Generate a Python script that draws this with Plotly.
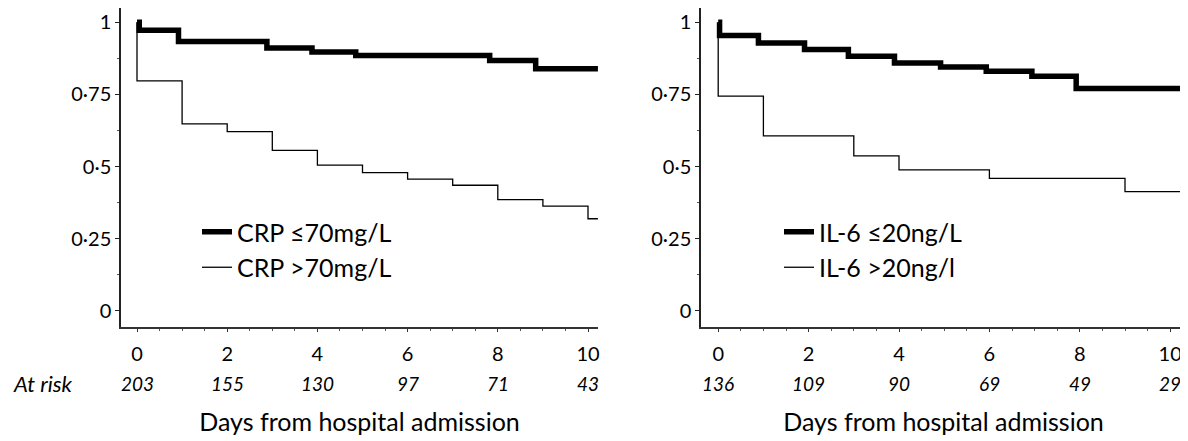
import plotly.graph_objects as go

# ---------------- data ----------------
crp_low_days = [0, 0.05, 0.92, 2.88, 3.88, 4.85, 7.82, 8.84, 10.22]
crp_low_surv = [1.0, 0.972, 0.933, 0.911, 0.897, 0.885, 0.867, 0.839, 0.839]

crp_high_days = [0, 0, 1, 2, 3, 4, 5, 6, 7, 8, 9, 10, 10.22]
crp_high_surv = [1.0, 0.797, 0.648, 0.621, 0.556, 0.505, 0.479, 0.456, 0.435, 0.385, 0.363, 0.319, 0.319]

il6_low_days = [0, 0.03, 0.89, 1.91, 2.88, 3.9, 4.92, 5.93, 6.94, 7.92, 10.35]
il6_low_surv = [1.0, 0.954, 0.928, 0.905, 0.882, 0.859, 0.845, 0.830, 0.813, 0.770, 0.770]

il6_high_days = [0, 0, 1, 3, 4, 6, 9, 10.35]
il6_high_surv = [1.0, 0.744, 0.606, 0.537, 0.488, 0.459, 0.413, 0.413]

risk_days = [0, 2, 4, 6, 8, 10]
crp_at_risk = [203, 155, 130, 97, 71, 43]
il6_at_risk = [136, 109, 90, 69, 49, 29]

y_tickvals = [0, 0.25, 0.5, 0.75, 1]
y_ticktext = ["0", "0·25", "0·5", "0·75", "1"]
x_tickvals = [0, 2, 4, 6, 8, 10]

legend_names_left = ["CRP ≤70mg/L", "CRP >70mg/L"]
legend_names_right = ["IL-6 ≤20ng/L", "IL-6 >20ng/l"]
x_title = "Days from hospital admission"

# ---------------- figure ----------------
FONT = "Lato"
OFF = 8                          # page body margin
W, H = 1188 - OFF, 441 - OFF     # figure size so that it ends at the window edge


def px(X):
    """window x pixel -> paper fraction"""
    return min(1.0, (X - OFF) / W)


def py(Y):
    """window y pixel (from top) -> paper fraction"""
    return min(1.0, 1 - (Y - OFF) / H)


def x_range(axis_left_px, axis_right_px, day0_px, px_per_day):
    right = OFF + px(axis_right_px) * W
    return [(axis_left_px - day0_px) / px_per_day, (right - day0_px) / px_per_day]


fig = go.Figure()

fig.add_trace(go.Scatter(x=crp_low_days, y=crp_low_surv, mode="lines",
                         line=dict(shape="hv", width=5.5, color="black"),
                         name=legend_names_left[0], xaxis="x", yaxis="y", legend="legend"))
fig.add_trace(go.Scatter(x=crp_high_days, y=crp_high_surv, mode="lines",
                         line=dict(shape="hv", width=1.3, color="black"),
                         name=legend_names_left[1], xaxis="x", yaxis="y", legend="legend"))
fig.add_trace(go.Scatter(x=il6_low_days, y=il6_low_surv, mode="lines",
                         line=dict(shape="hv", width=5.5, color="black"),
                         name=legend_names_right[0], xaxis="x2", yaxis="y2", legend="legend2"))
fig.add_trace(go.Scatter(x=il6_high_days, y=il6_high_surv, mode="lines",
                         line=dict(shape="hv", width=1.3, color="black"),
                         name=legend_names_right[1], xaxis="x2", yaxis="y2", legend="legend2"))

# y axis: value 0 at window y 310.8, value 1 at 22.2 ; axis spans down to y 327
top_px = 8.0
y_dom = [py(327), py(top_px)]
scale = 288.6
y_rng = [-(327 - 310.8) / scale, 1 + (22.2 - top_px) / scale]

xr1 = x_range(121, 598, 137.0, 45.1)
xr2 = x_range(701, 1186, 718.2, 45.2)


def xaxis_cfg(dom, rng, anchor):
    return dict(domain=dom, range=rng, tickvals=x_tickvals, showline=True, linecolor="#333", linewidth=2,
                ticks="outside", ticklen=3, tickcolor="#333", tickwidth=1, showgrid=False, zeroline=False,
                tickfont=dict(family=FONT, size=20, color="black"), ticklabelstandoff=5,
                ticklabeloverflow="allow",
                minor=dict(dtick=0.5, ticks="outside", ticklen=2, tickcolor="#555", showgrid=False),
                title=dict(text=x_title, font=dict(family=FONT, size=25, color="black"), standoff=49),
                anchor=anchor, automargin=False, fixedrange=True)


def yaxis_cfg(anchor):
    return dict(domain=y_dom, range=y_rng, tickvals=y_tickvals, ticktext=y_ticktext, showline=True,
                linecolor="#222", linewidth=1.5, ticks="outside", ticklen=4, tickcolor="#222", showgrid=False,
                zeroline=False, tickfont=dict(family=FONT, size=20, color="black"), ticklabelstandoff=0,
                ticklabeloverflow="allow",
                minor=dict(dtick=0.125, ticks="outside", ticklen=2, tickcolor="#555", showgrid=False),
                anchor=anchor, automargin=False, fixedrange=True)


fig.update_layout(
    width=W, height=H, margin=dict(l=0, r=0, t=0, b=0),
    paper_bgcolor="white", plot_bgcolor="white",
    font=dict(family=FONT, color="black"),
    xaxis=xaxis_cfg([px(121), px(598)], xr1, "y"),
    yaxis=yaxis_cfg("x"),
    xaxis2=xaxis_cfg([px(701), px(1186)], xr2, "y2"),
    yaxis2=yaxis_cfg("x2"),
    legend=dict(x=px(197), y=py(209), xanchor="left", yanchor="top", bgcolor="rgba(0,0,0,0)",
                font=dict(family=FONT, size=25, color="black"), tracegroupgap=0),
    legend2=dict(x=px(779), y=py(209), xanchor="left", yanchor="top", bgcolor="rgba(0,0,0,0)",
                 font=dict(family=FONT, size=25, color="black"), tracegroupgap=0),
    showlegend=True,
)

risk_y = py(383)
risk_font = dict(family=FONT, size=19, style="italic", color="black")
for d, n in zip(risk_days, crp_at_risk):
    fig.add_annotation(x=d, y=risk_y, xref="x", yref="paper", text=str(n), showarrow=False,
                       font=risk_font, xanchor="center", yanchor="middle")
for d, n in zip(risk_days, il6_at_risk):
    fig.add_annotation(x=d, y=risk_y, xref="x2", yref="paper", text=str(n), showarrow=False,
                       font=risk_font, xanchor="center", yanchor="middle")
fig.add_annotation(x=px(11), y=risk_y, xref="paper", yref="paper", text="At risk", showarrow=False,
                   font=dict(family=FONT, size=22, style="italic", color="black"), xanchor="left", yanchor="middle")

fig.write_html("out.html")
